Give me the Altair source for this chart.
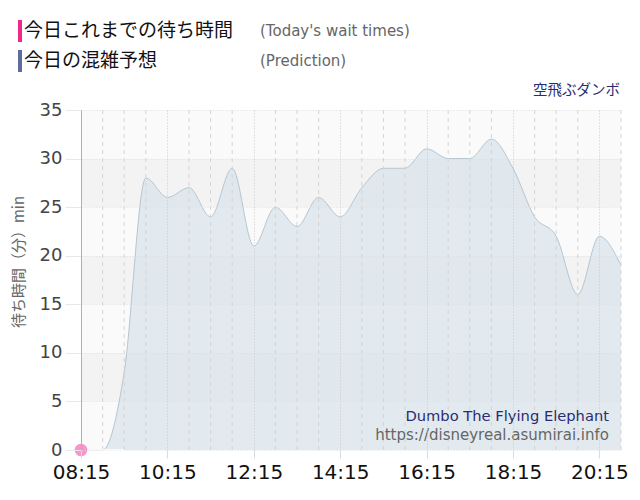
import altair as alt
import pandas as pd

# ---- data ----
pred_times = ["08:15", "08:45", "09:15", "09:45", "10:15", "10:45", "11:15", "11:45",
              "12:15", "12:45", "13:15", "13:45", "14:15", "14:45", "15:15", "15:45",
              "16:15", "16:45", "17:15", "17:45", "18:15", "18:45", "19:15", "19:45",
              "20:15", "20:45"]
pred_waits = [0, 0, 8, 28, 26, 27, 24, 29, 21, 25, 23, 26, 24, 27, 29, 29,
              31, 30, 30, 32, 29, 24, 22, 16, 22, 19]

today_times = ["08:15", "08:45", "09:15"]
today_waits = [0, 0, 0]

tick_labels = ["08:15", "10:15", "12:15", "14:15", "16:15", "18:15", "20:15"]
grid_times = ["08:45", "09:15", "09:45", "10:45", "11:15", "11:45", "12:45", "13:15",
              "13:45", "14:45", "15:15", "15:45", "16:45", "17:15", "17:45", "18:45",
              "19:15", "19:45", "20:45"]
y_ticks = [0, 5, 10, 15, 20, 25, 30, 35]
band_lo = [0, 5, 10, 15, 20, 25, 30]
band_hi = [5, 10, 15, 20, 25, 30, 35]
band_shade = ["light", "dark", "light", "dark", "light", "dark", "light"]

x_start, x_end = "08:15", "20:45"
y_max = 35


def to_min(t):
    h, m = t.split(":")
    return int(h) * 60 + int(m)


pred = pd.DataFrame({"t": [to_min(t) for t in pred_times], "w": pred_waits})
today = pd.DataFrame({"t": [to_min(t) for t in today_times], "w": today_waits})
grid = pd.DataFrame({"t": [to_min(t) for t in grid_times]})
bands = pd.DataFrame({"lo": band_lo, "hi": band_hi, "shade": band_shade})

W, H = 540, 340
JP = "Noto Sans CJK JP"
LAT = "DejaVu Sans"

xscale = alt.Scale(domain=[to_min(x_start), to_min(x_end)], nice=False, zero=False)
yscale = alt.Scale(domain=[0, y_max], nice=False)

label_expr = ("(floor(datum.value/60) < 10 ? '0' : '') + floor(datum.value/60) + ':' + "
              "(datum.value % 60 < 10 ? '0' : '') + (datum.value % 60)")

x_axis = alt.Axis(values=[to_min(t) for t in tick_labels], labelExpr=label_expr,
                  title=None, labelFont=LAT, labelFontSize=20, labelColor="#111",
                  labelOverlap=False, labelFlush=False,
                  tickSize=8, tickColor="#dcdcdc", labelPadding=4, domain=False,
                  grid=True, gridColor="#c8c8c8", gridDash=[1, 2], zindex=1)
y_axis = alt.Axis(values=y_ticks, title=None, labelFont=LAT, labelFontSize=18,
                  labelColor="#444", tickSize=16, tickColor="#e8e8e8", labelPadding=3,
                  labelOverlap=False, labelFlush=False,
                  domain=True, domainColor="#aab0bb", grid=True, gridColor="#dedede",
                  gridDash=[1, 2], zindex=1)

band_layer = alt.Chart(bands).mark_rect().encode(
    x=alt.value(0), x2=alt.value(W),
    y=alt.Y("lo:Q", scale=yscale, axis=y_axis), y2="hi:Q",
    color=alt.Color("shade:N", scale=alt.Scale(domain=["light", "dark"],
                                               range=["#fafafa", "#f3f3f3"]), legend=None),
)

area_layer = alt.Chart(pred).mark_area(
    interpolate="monotone", color="#d7e2ea", line={"color": "#b6c6d2", "strokeWidth": 1}
).encode(
    x=alt.X("t:Q", scale=xscale, axis=x_axis),
    y=alt.Y("w:Q", scale=yscale),
)

grid_layer = alt.Chart(grid).mark_rule(color="#d4d4d4", strokeDash=[4, 4], strokeWidth=1).encode(
    x=alt.X("t:Q", scale=xscale), y=alt.value(0), y2=alt.value(H)
)

today_line = alt.Chart(today).mark_line(color="#ffffff", strokeWidth=1.5).encode(
    x=alt.X("t:Q", scale=xscale), y=alt.Y("w:Q", scale=yscale)
)
today_pt = alt.Chart(today.iloc[[0]]).mark_circle(size=160, color="#f48cc4", opacity=0.9).encode(
    x=alt.X("t:Q", scale=xscale), y=alt.Y("w:Q", scale=yscale)
)

def txt(s, x, y, size, color, font, align="left", baseline="middle", angle=0):
    kw = dict(text=s, fontSize=size, color=color, font=font, align=align, baseline=baseline)
    if angle:
        kw["angle"] = angle
    return alt.Chart(pd.DataFrame({"a": [0]})).mark_text(**kw).encode(
        x=alt.value(x), y=alt.value(y))

def bar(x1, x2, y1, y2, color):
    return alt.Chart(pd.DataFrame({"a": [0]})).mark_rect(color=color).encode(
        x=alt.value(x1), x2=alt.value(x2), y=alt.value(y1), y2=alt.value(y2))

decor = [
    bar(-63, -59, -90, -68, "#f0288c"),
    bar(-63, -59, -60, -38, "#5d6b9e"),
    txt("今日これまでの待ち時間", -57, -79, 19, "#111", JP),
    txt("(Today's wait times)", 179, -79, 15, "#666", LAT),
    txt("今日の混雑予想", -57, -49, 19, "#111", JP),
    txt("(Prediction)", 179, -49, 15, "#666", LAT),
    txt("空飛ぶダンボ", 539, -19, 14.5, "#2a2c72", JP, align="right"),
    txt("Dumbo The Flying Elephant", 528, 311, 14.7, "#2a2c72", LAT, align="right",
        baseline="alphabetic"),
    txt("https://disneyreal.asumirai.info", 528, 330, 15, "#666", LAT, align="right",
        baseline="alphabetic"),
    txt("待ち時間（分）min", -62, 152, 15, "#666", JP, align="center", angle=270),
]

chart = alt.layer(band_layer, area_layer, grid_layer, today_line, today_pt, *decor).properties(
    width=W, height=H,
    autosize=alt.AutoSizeParams(type="none"),
    padding={"left": 73, "top": 102, "right": 11, "bottom": 42},
    background="#ffffff",
).configure_view(stroke=None)

chart.save("out.html", embed_options={"renderer": "svg", "actions": False})
